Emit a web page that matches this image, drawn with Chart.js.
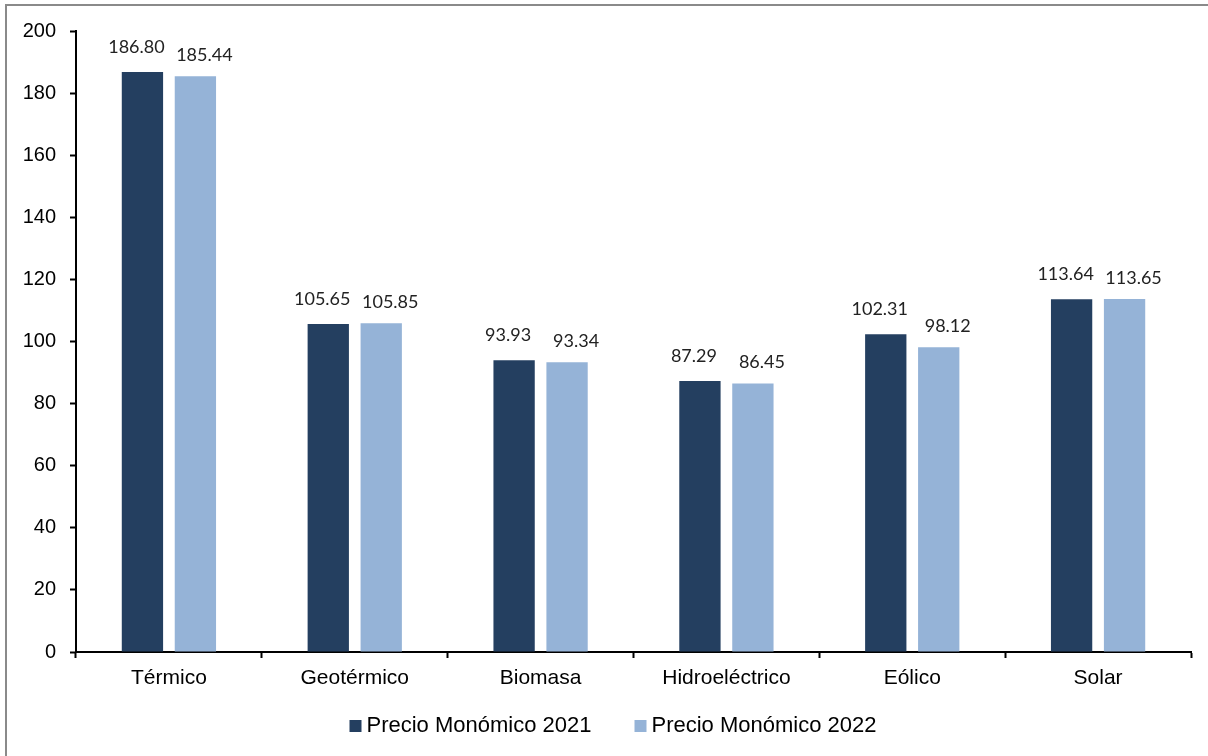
<!DOCTYPE html>
<html lang="es">
<head>
<meta charset="utf-8">
<title>Precio Monómico por tecnología</title>
<script src="https://cdn.jsdelivr.net/npm/chart.js@4/dist/chart.umd.min.js"></script>
<style>
  html, body { margin: 0; padding: 0; background: #ffffff; }
  #wrap { position: relative; width: 1208px; height: 756px; }
  canvas { display: block; }
</style>
</head>
<body>
<div id="wrap"><canvas id="chart" width="1208" height="756"></canvas></div>
<script>
// Tecnologías de generación
const categories = ['Térmico', 'Geotérmico', 'Biomasa', 'Hidroeléctrico', 'Eólico', 'Solar'];
// Precio monómico por año
const precio2021 = [186.80, 105.65, 93.93, 87.29, 102.31, 113.64];
const precio2022 = [185.44, 105.85, 93.34, 86.45, 98.12, 113.65];
const seriesLabels = ['Precio Monómico 2021', 'Precio Monómico 2022'];
// Eje vertical
const yMin = 0, yMax = 200, yStep = 20;

const COLOR_2021 = '#243F60';
const COLOR_2022 = '#95B3D7';
const FONT_AXIS = '"Liberation Sans", Arial, sans-serif';
const FONT_VALUES = 'Lato, "Open Sans", sans-serif';

// Marco gris y fondo blanco
const framePlugin = {
  id: 'frame',
  beforeDraw(chart) {
    const ctx = chart.ctx;
    ctx.save();
    ctx.fillStyle = '#ffffff';
    ctx.fillRect(0, 0, chart.width, chart.height);
    ctx.strokeStyle = '#8a8a8a';
    ctx.lineWidth = 2;
    ctx.beginPath();
    ctx.moveTo(6, chart.height);
    ctx.lineTo(6, 5);
    ctx.lineTo(chart.width, 5);
    ctx.stroke();
    ctx.restore();
  }
};

// Etiquetas de valor sobre cada barra (la primera serie algo a la izquierda, la segunda a la derecha)
const valueLabels = {
  id: 'valueLabels',
  afterDatasetsDraw(chart) {
    const ctx = chart.ctx;
    ctx.save();
    ctx.font = '18px ' + FONT_VALUES;
    ctx.fillStyle = '#222222';
    ctx.textAlign = 'center';
    ctx.textBaseline = 'middle';
    const shift = [-6, 9];
    const lift = [25, 21];
    chart.data.datasets.forEach((ds, i) => {
      chart.getDatasetMeta(i).data.forEach((bar, j) => {
        ctx.fillText(ds.data[j].toFixed(2), bar.x + shift[i], bar.y - lift[i]);
      });
    });
    ctx.restore();
  }
};

// Leyenda inferior
const bottomLegend = {
  id: 'bottomLegend',
  afterDraw(chart) {
    const ctx = chart.ctx;
    ctx.save();
    ctx.font = '22px ' + FONT_AXIS;
    ctx.textBaseline = 'middle';
    const box = 12, gapText = 5, gapItem = 43;
    const items = chart.data.datasets.map(ds => ({
      label: ds.label, color: ds.backgroundColor, w: ctx.measureText(ds.label).width
    }));
    const total = items.reduce((s, it) => s + box + gapText + it.w, 0) + gapItem * (items.length - 1);
    let x = 613 - total / 2;
    const y = 725;
    items.forEach(it => {
      ctx.fillStyle = it.color;
      ctx.fillRect(x, y - box / 2 + 1, box, box);
      x += box + gapText;
      ctx.fillStyle = '#000000';
      ctx.fillText(it.label, x, y + 1);
      x += it.w + gapItem;
    });
    ctx.restore();
  }
};

new Chart(document.getElementById('chart'), {
  type: 'bar',
  data: {
    labels: categories,
    datasets: [
      { label: seriesLabels[0], data: precio2021, backgroundColor: COLOR_2021 },
      { label: seriesLabels[1], data: precio2022, backgroundColor: COLOR_2022 }
    ]
  },
  options: {
    responsive: false,
    animation: false,
    devicePixelRatio: 1,
    categoryPercentage: 0.57,
    barPercentage: 0.78,
    layout: { padding: { top: 31, left: 6, right: 17, bottom: 0 } },
    plugins: {
      legend: { display: false },
      tooltip: { enabled: false }
    },
    scales: {
      x: {
        afterFit(scale) { scale.height = 104; },
        grid: {
          display: true,
          offset: true,
          drawOnChartArea: false,
          drawTicks: true,
          tickLength: 6,
          tickWidth: 2,
          tickColor: '#000000'
        },
        border: { display: true, color: '#000000', width: 2 },
        ticks: {
          color: '#000000',
          font: { family: FONT_AXIS, size: 21 },
          padding: 8,
          maxRotation: 0
        }
      },
      y: {
        min: yMin,
        max: yMax,
        afterFit(scale) { scale.width = 70; },
        grid: {
          display: true,
          drawOnChartArea: false,
          drawTicks: true,
          tickLength: 6,
          tickWidth: 2,
          tickColor: '#000000'
        },
        border: { display: true, color: '#000000', width: 2 },
        ticks: {
          stepSize: yStep,
          color: '#000000',
          font: { family: FONT_AXIS, size: 20 },
          padding: 14
        }
      }
    }
  },
  plugins: [framePlugin, valueLabels, bottomLegend]
});
</script>
</body>
</html>
